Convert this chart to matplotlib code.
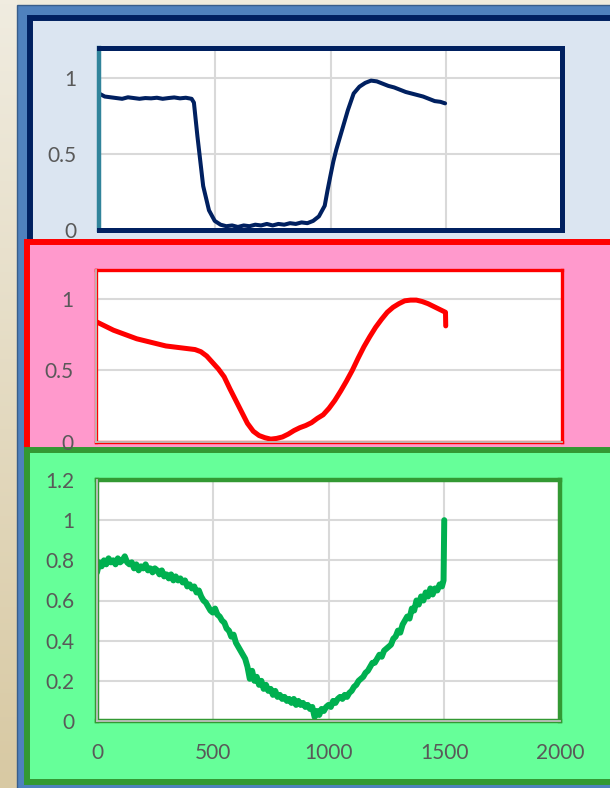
import matplotlib.pyplot as plt
import numpy as np
from matplotlib.patches import Rectangle
from matplotlib.colors import LinearSegmentedColormap

plt.rcParams['font.family'] = ['Lato', 'DejaVu Sans']

# --- data ---
x_top = [0, 25, 50, 75, 100, 125, 150, 175, 200, 225, 250, 275, 300, 325, 350, 375, 400,
         410, 425, 450, 475, 500, 525, 550, 575, 600, 625, 650, 675, 700, 725, 750, 775,
         800, 825, 850, 875, 900, 925, 950, 975, 987, 1000, 1012, 1025, 1050, 1075, 1100,
         1125, 1150, 1175, 1200, 1225, 1250, 1275, 1300, 1325, 1350, 1375, 1400, 1425,
         1450, 1475, 1495]
y_top = [0.90, 0.88, 0.875, 0.87, 0.865, 0.875, 0.87, 0.865, 0.87, 0.868, 0.872, 0.865,
         0.87, 0.874, 0.868, 0.872, 0.865, 0.84, 0.62, 0.29, 0.13, 0.06, 0.035, 0.025,
         0.03, 0.02, 0.03, 0.025, 0.035, 0.03, 0.04, 0.03, 0.04, 0.035, 0.045, 0.04, 0.05,
         0.045, 0.06, 0.09, 0.16, 0.26, 0.36, 0.45, 0.53, 0.66, 0.79, 0.90, 0.945, 0.97,
         0.985, 0.98, 0.965, 0.95, 0.94, 0.925, 0.91, 0.90, 0.89, 0.88, 0.865, 0.85, 0.845,
         0.835]

x_mid = [0, 25, 50, 75, 100, 125, 150, 175, 200, 225, 250, 275, 300, 325, 350, 375, 400,
         425, 450, 475, 500, 525, 550, 575, 600, 625, 650, 675, 700, 725, 750, 775, 800,
         825, 850, 875, 900, 925, 950, 975, 1000, 1025, 1050, 1075, 1100, 1125, 1150, 1175,
         1200, 1225, 1250, 1275, 1300, 1325, 1350, 1375, 1400, 1425, 1450, 1475, 1500, 1501]
y_mid = [0.84, 0.82, 0.80, 0.78, 0.765, 0.75, 0.735, 0.72, 0.71, 0.70, 0.69, 0.68, 0.67,
         0.665, 0.66, 0.655, 0.65, 0.645, 0.63, 0.60, 0.555, 0.51, 0.455, 0.37, 0.29, 0.21,
         0.13, 0.075, 0.045, 0.03, 0.02, 0.025, 0.035, 0.055, 0.08, 0.10, 0.115, 0.135,
         0.165, 0.19, 0.235, 0.29, 0.355, 0.425, 0.50, 0.585, 0.665, 0.735, 0.80, 0.855,
         0.905, 0.94, 0.965, 0.985, 0.99, 0.99, 0.98, 0.965, 0.945, 0.925, 0.905, 0.81]

x_bot = list(range(0, 1500, 10)) + [1497, 1500]
y_bot = [0.74, 0.79, 0.77, 0.80, 0.78, 0.81, 0.79, 0.80, 0.78, 0.81,
         0.79, 0.80, 0.82, 0.79, 0.78, 0.79, 0.76, 0.78, 0.75, 0.77,
         0.76, 0.78, 0.75, 0.76, 0.74, 0.76, 0.75, 0.73, 0.75, 0.72,
         0.73, 0.71, 0.73, 0.70, 0.72, 0.70, 0.71, 0.69, 0.70, 0.67,
         0.68, 0.66, 0.67, 0.64, 0.65, 0.62, 0.60, 0.59, 0.57, 0.55,
         0.54, 0.56, 0.53, 0.52, 0.50, 0.49, 0.46, 0.45, 0.42, 0.43,
         0.39, 0.37, 0.35, 0.33, 0.31, 0.27, 0.21, 0.25, 0.20, 0.22,
         0.18, 0.20, 0.16, 0.18, 0.15, 0.16, 0.13, 0.15, 0.12, 0.13,
         0.11, 0.12, 0.10, 0.11, 0.09, 0.11, 0.08, 0.10, 0.08, 0.09,
         0.07, 0.08, 0.06, 0.07, 0.02, 0.05, 0.03, 0.06, 0.05, 0.07,
         0.08, 0.07, 0.10, 0.09, 0.11, 0.12, 0.11, 0.13, 0.12, 0.14,
         0.15, 0.17, 0.18, 0.20, 0.21, 0.22, 0.24, 0.25, 0.27, 0.29,
         0.29, 0.31, 0.33, 0.32, 0.35, 0.36, 0.37, 0.38, 0.41, 0.42,
         0.45, 0.44, 0.48, 0.50, 0.52, 0.51, 0.56, 0.55, 0.60, 0.58,
         0.62, 0.60, 0.64, 0.62, 0.66, 0.63, 0.66, 0.65, 0.68, 0.67,
         0.70, 1.0]

W, H = 610, 788
fig = plt.figure(figsize=(W / 100, H / 100), dpi=100)
fig.patch.set_facecolor('#efebdc')

# background drawn in pixel coordinates
bg = fig.add_axes([0, 0, 1, 1])
bg.axis('off')
grad = np.linspace(0, 1, 200).reshape(-1, 1)
bg.imshow(grad, extent=[0, 17, H, 0], aspect='auto',
          cmap=LinearSegmentedColormap.from_list('beige', ['#f0ece0', '#d8c9a3']))
bg.add_patch(Rectangle((17, 5), 640, 820, fc='#4f81bd', ec='#385d8a', lw=1))
bg.add_patch(Rectangle((30, 18), 640, 300, fc='#dbe5f1', ec='#002060', lw=4.3))
bg.add_patch(Rectangle((27, 242), 640, 300, fc='#ff99cc', ec='#ff0000', lw=4.3))
bg.add_patch(Rectangle((27, 450), 640, 332, fc='#66ff99', ec='#339933', lw=4.3))
bg.set_xlim(0, W)
bg.set_ylim(H, 0)


def make_ax(left, right, top, bottom):
    ax = fig.add_axes([left / W, 1 - bottom / H, (right - left) / W, (bottom - top) / H])
    ax.set_zorder(5)
    ax.set_facecolor('white')
    ax.set_xlim(0, 2000)
    ax.set_ylim(0, 1.2)
    ax.set_xticks([0, 500, 1000, 1500, 2000])
    ax.tick_params(length=0, labelsize=15, colors='#595959', pad=16)
    ax.grid(True, color='#d9d9d9', lw=1.5)
    ax.set_axisbelow(True)
    return ax


ax1 = make_ax(99, 562, 48, 230)
ax1.set_yticks([0, 0.5, 1])
ax1.set_yticklabels(['0', '0.5', '1'])
ax1.set_xticklabels([])
ax1.plot(x_top, y_top, color='#002060', lw=2.9, solid_capstyle='round')
for s in ax1.spines.values():
    s.set_color('#002060')
    s.set_linewidth(3.6)
ax1.spines['left'].set_color('#31849b')
ax1.spines['left'].set_linewidth(3.2)

ax2 = make_ax(96, 562, 270, 442)
ax2.set_yticks([0, 0.5, 1])
ax2.set_yticklabels(['0', '0.5', '1'])
ax2.set_xticklabels([])
ax2.grid(False, axis='x')
ax2.plot(x_mid, y_mid, color='#ff0000', lw=3.6, solid_capstyle='round')
for s in ax2.spines.values():
    s.set_color('#ff0000')
    s.set_linewidth(2.4)

ax3 = make_ax(97, 560, 480, 721)
ax3.set_yticks([0, 0.2, 0.4, 0.6, 0.8, 1, 1.2])
ax3.set_yticklabels(['0', '0.2', '0.4', '0.6', '0.8', '1', '1.2'])
ax3.set_xticklabels(['0', '500', '1000', '1500', '2000'])
ax3.tick_params(axis='x', pad=16)
ax3.plot(x_bot, y_bot, color='#00b050', lw=4.3, solid_capstyle='round')
for s in ax3.spines.values():
    s.set_color('#339933')
    s.set_linewidth(3.2)

for ax in (ax2, ax3):
    ax.axhline(0, color='#bfbfbf', lw=1.3, zorder=6, clip_on=False)
    ax.axvline(0, color='#bfbfbf', lw=1.3, zorder=6, clip_on=False)

fig.savefig('out.png', dpi=100, facecolor=fig.get_facecolor())
